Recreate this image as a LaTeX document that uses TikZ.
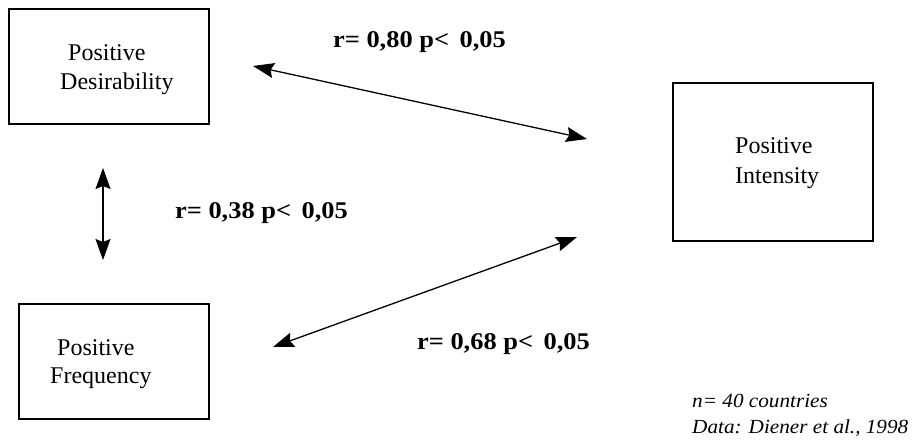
\documentclass[tikz,border=0pt]{standalone}
\usepackage{fontspec}
\setmainfont{Liberation Serif}
\newfontfamily\lblfont[FakeStretch=1.1]{Liberation Serif}
\newfontfamily\notefont[FakeStretch=1.06]{Liberation Serif}
\usetikzlibrary{arrows.meta}
\begin{document}
\begin{tikzpicture}[x=1pt,y=-1pt,
  box/.style={draw,line width=1.4pt,inner sep=0pt},
  boxtext/.style={anchor=base west,inner sep=0pt,font=\fontsize{24}{28}\selectfont},
  corr/.style={anchor=base west,inner sep=0pt,font=\lblfont\bfseries\fontsize{24}{28}\selectfont},
  note/.style={anchor=base west,inner sep=0pt,font=\notefont\itshape\fontsize{20}{24}\selectfont},
  link/.style={line width=1.3pt,{Stealth[length=21pt,width=15pt,inset=3pt]}-{Stealth[length=21pt,width=15pt,inset=3pt]}}]
\useasboundingbox (0,0) rectangle (916,444);
% boxes
\node[box,minimum width=200pt,minimum height=115pt] (des) at (109,66.5) {};
\node[box,minimum width=200pt,minimum height=158pt] (int) at (773,162) {};
\node[box,minimum width=190pt,minimum height=115pt] (fre) at (114,361.5) {};
% box texts
\node[boxtext] (des1) at (68,61) {Positive};
\node[boxtext] (des2) at (60,89) {Desirability};
\node[boxtext] (int1) at (735,153) {Positive};
\node[boxtext] (int2) at (735,183) {Intensity};
\node[boxtext] (fre1) at (57,355) {Positive};
\node[boxtext] (fre2) at (50,383) {Frequency};
% arrow ends
\coordinate (a1) at (253,66);
\coordinate (a2) at (587,139);
\coordinate (b1) at (103,168);
\coordinate (b2) at (103,260);
\coordinate (c1) at (273,347);
\coordinate (c2) at (577,237);
\draw[link] (a1) -- (a2);
\draw[link] (b1) -- (b2);
\draw[link] (c1) -- (c2);
% correlation labels
\node[corr] (l1) at (333,48) {r= 0,80 p<\, 0,05};
\node[corr] (l2) at (175,218) {r= 0,38 p<\, 0,05};
\node[corr] (l3) at (417,349) {r= 0,68 p<\, 0,05};
% note
\node[note] (n1) at (692,407) {n= 40 countries};
\node[note] (n2) at (692,433) {Data: Diener et al., 1998};
\end{tikzpicture}
\end{document}
